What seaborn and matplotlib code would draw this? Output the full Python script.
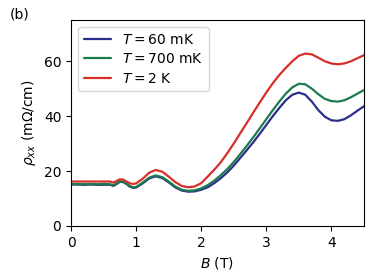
import numpy as np
import pandas as pd
import matplotlib
matplotlib.use("Agg")
import matplotlib.pyplot as plt
import seaborn as sns

# magnetic field (T)
B = [0.0, 0.1, 0.2, 0.3, 0.4, 0.5, 0.6, 0.65, 0.7, 0.75, 0.8, 0.85, 0.9, 0.95,
     1.0, 1.1, 1.2, 1.3, 1.4, 1.5, 1.6, 1.7, 1.8, 1.9, 2.0, 2.1, 2.2, 2.3, 2.4,
     2.5, 2.6, 2.7, 2.8, 2.9, 3.0, 3.1, 3.2, 3.3, 3.4, 3.5, 3.6, 3.7, 3.8, 3.9,
     4.0, 4.1, 4.2, 4.3, 4.4, 4.5]

# rho_xx (mOhm/cm)
rho_60mK = [15.1, 15.1, 15.0, 15.1, 15.0, 15.0, 15.0, 14.6, 15.3, 16.1, 16.0,
            15.3, 14.4, 13.9, 14.0, 15.5, 17.3, 18.1, 17.5, 15.9, 14.1, 12.9,
            12.5, 12.6, 13.2, 14.1, 15.6, 17.4, 19.5, 22.0, 24.8, 27.6, 30.5,
            33.6, 36.8, 40.0, 43.0, 45.8, 47.8, 48.6, 47.8, 45.3, 42.2, 39.8,
            38.5, 38.3, 38.9, 40.3, 42.0, 43.6]
rho_700mK = [15.3, 15.3, 15.2, 15.3, 15.2, 15.3, 15.2, 14.8, 15.5, 16.3, 16.2,
             15.4, 14.6, 14.1, 14.2, 15.8, 17.6, 18.4, 17.8, 16.2, 14.4, 13.2,
             12.8, 13.0, 13.7, 14.9, 16.5, 18.5, 20.7, 23.3, 26.2, 29.2, 32.3,
             35.6, 38.9, 42.2, 45.3, 48.2, 50.5, 51.8, 51.6, 50.0, 48.0, 46.3,
             45.5, 45.3, 45.8, 46.9, 48.2, 49.5]
rho_2K = [16.2, 16.2, 16.2, 16.2, 16.2, 16.2, 16.2, 15.8, 16.4, 17.0, 16.9,
          16.2, 15.6, 15.3, 15.5, 17.2, 19.4, 20.4, 19.8, 18.0, 16.0, 14.6,
          14.1, 14.4, 15.6, 18.0, 20.5, 23.2, 26.5, 30.0, 33.8, 37.5, 41.3,
          45.0, 48.6, 52.0, 55.0, 57.6, 60.0, 62.0, 62.8, 62.5, 61.3, 60.0,
          59.2, 58.9, 59.2, 60.0, 61.1, 62.2]

labels = [r"$T = 60$ mK", r"$T = 700$ mK", r"$T = 2$ K"]
colors = ["#2a2f8c", "#1b7a4e", "#d62f2a"]

df = pd.concat([
    pd.DataFrame({"B": B, "rho": rho_60mK, "T": labels[0]}),
    pd.DataFrame({"B": B, "rho": rho_700mK, "T": labels[1]}),
    pd.DataFrame({"B": B, "rho": rho_2K, "T": labels[2]}),
])

sns.set_style("ticks", rc={"text.color": "black", "axes.labelcolor": "black",
                           "xtick.color": "black", "ytick.color": "black",
                           "axes.edgecolor": "black"})
plt.rcParams["font.family"] = ["DejaVu Sans"]

fig = plt.figure(figsize=(3.74, 2.79), dpi=100)
ax = fig.add_axes([0.19, 0.19, 0.783, 0.738])

sns.lineplot(data=df, x="B", y="rho", hue="T", hue_order=labels,
             palette=dict(zip(labels, colors)), linewidth=1.6, ax=ax)

ax.set_xlim(0, 4.5)
ax.set_ylim(0, 75)
ax.set_yticks([0, 20, 40, 60])
ax.set_xticks([0, 1, 2, 3, 4])
ax.set_xlabel(r"$B$ (T)", fontsize=10)
ax.set_ylabel(r"$\rho_{xx}$ (m$\Omega$/cm)", fontsize=10)
ax.tick_params(labelsize=10)
for s in ax.spines.values():
    s.set_visible(True)
    s.set_linewidth(0.8)

ax.legend(loc="upper left", fontsize=10, frameon=True, handlelength=2.0,
          labelspacing=0.4)
fig.text(0.027, 0.948, "(b)", fontsize=10, va="center")

fig.savefig("out.png", dpi=100)
